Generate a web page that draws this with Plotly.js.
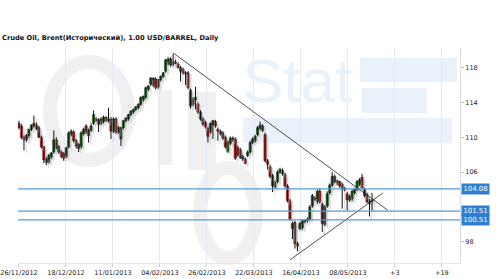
<!DOCTYPE html>
<html><head><meta charset="utf-8">
<script src="https://cdn.plot.ly/plotly-3.0.1.min.js"></script>
<style>html,body{margin:0;padding:0;background:#fff;}#chart{width:500px;height:279px;}</style>
</head><body><div id="chart"></div>
<script>
// ---- data (daily candles, oldest first) ----
const openP  = [111.6,111.3,110.0,109.7,110.2,110.9,111.6,111.4,111.1,110.0,108.9,107.5,107.2,107.7,108.3,109.7,108.9,108.3,108.1,107.8,
108.9,110.3,110.6,109.6,109.2,108.9,110.4,111.3,110.8,110.8,111.6,112.1,112.0,111.6,111.8,112.3,111.9,112.1,110.7,112.1,
111.1,109.8,111.1,111.9,112.1,112.6,112.9,113.2,113.4,113.8,114.3,114.6,115.5,116.1,116.0,116.7,115.8,116.6,117.0,117.6,
118.5,119.0,118.4,118.6,118.4,118.0,117.8,117.3,117.4,115.4,114.3,114.3,113.8,112.9,112.1,111.7,111.0,110.6,111.4,111.8,
110.9,110.7,110.5,110.0,108.4,109.3,109.9,109.8,108.8,108.6,107.8,107.5,107.9,108.3,109.4,109.6,110.3,111.0,111.3,110.3,
107.3,106.6,105.6,104.3,104.9,106.0,106.2,105.7,104.4,102.7,99.5,100.2,97.8,99.5,99.6,100.3,100.4,100.6,102.1,102.9,
102.6,103.8,102.3,100.0,102.1,103.6,104.5,105.5,104.8,104.9,104.6,104.0,103.5,102.8,102.9,103.6,104.0,104.6,105.4,104.0,
103.4,102.4,102.6];
const highP  = [111.9,111.5,110.2,110.4,111.0,111.5,112.5,111.7,111.3,110.2,109.0,107.7,108.1,108.3,110.8,110.0,109.1,108.5,108.3,108.9,
110.7,110.9,110.8,109.8,109.3,110.7,111.1,111.5,111.0,111.6,113.1,112.3,112.2,112.3,112.5,112.4,113.4,112.3,112.3,112.3,
111.3,111.2,112.0,112.3,112.7,113.1,113.3,113.6,113.9,114.7,114.8,115.8,116.0,116.9,116.9,116.9,116.7,117.1,117.5,119.0,
119.2,119.2,119.6,118.9,118.6,118.2,118.0,117.6,117.6,115.6,114.6,115.8,114.0,113.1,112.3,111.9,111.2,111.7,112.0,112.0,
111.1,110.9,110.7,110.2,109.6,110.1,110.1,110.0,109.0,108.8,108.0,107.7,108.5,109.6,110.0,110.3,111.3,111.8,111.5,110.5,
107.5,106.8,105.8,105.0,106.2,106.5,106.4,105.9,104.6,102.9,100.3,100.4,98.0,100.3,100.6,100.6,100.8,102.2,103.5,103.2,
104.0,104.1,102.5,102.2,103.8,104.7,106.0,105.7,105.1,105.0,104.8,104.3,103.7,103.4,104.0,104.2,105.1,105.3,105.8,104.2,
103.6,102.9,103.6];
const lowP   = [110.9,109.8,108.5,109.5,109.9,110.7,111.1,110.8,109.9,108.7,107.0,106.8,107.0,107.5,108.1,108.6,108.1,107.6,107.3,107.6,
108.7,110.1,109.4,108.7,108.3,108.7,110.2,110.4,109.4,110.6,111.4,111.8,110.6,111.4,111.6,111.8,111.7,109.8,110.5,110.4,
110.4,109.0,110.9,111.7,111.9,112.4,112.7,113.0,113.2,113.6,114.1,114.4,115.3,115.9,115.8,115.5,115.6,116.4,116.8,117.4,
118.3,118.1,118.2,118.4,117.9,116.4,117.2,116.0,115.5,113.3,113.6,113.2,112.7,111.9,111.3,111.0,109.4,110.4,109.8,111.1,
109.6,110.2,109.7,108.7,108.2,109.1,109.5,107.4,107.8,107.5,107.3,106.9,107.7,108.1,109.2,109.4,110.1,110.8,110.6,107.1,
106.3,105.3,103.7,104.1,104.7,105.8,105.6,104.2,102.5,100.4,98.3,97.2,96.9,99.3,99.4,100.1,100.2,100.4,101.9,102.7,
102.3,102.4,99.1,99.8,101.9,103.4,104.3,104.7,104.5,104.2,101.8,103.8,101.6,102.6,102.7,103.4,103.8,104.4,104.0,103.1,
102.4,100.9,101.6];
const closeP = [111.1,110.0,109.7,110.2,110.9,111.4,111.3,111.0,110.0,108.9,107.4,107.1,107.9,108.2,109.7,108.8,108.3,107.8,107.6,108.8,
110.5,110.7,109.6,109.0,108.7,110.5,110.9,110.6,110.2,111.3,112.6,111.9,111.5,112.1,112.3,111.9,112.1,110.7,112.1,110.6,
110.6,111.1,111.9,112.2,112.6,113.0,113.2,113.5,113.8,114.6,114.7,115.7,115.9,116.8,116.8,115.7,116.6,117.0,117.4,118.9,
119.0,118.3,118.7,118.5,118.0,117.6,117.4,117.4,115.7,113.6,113.8,114.6,112.9,112.1,111.5,111.2,110.1,111.6,111.9,111.3,
110.7,110.4,109.9,108.9,109.4,109.9,109.7,107.6,108.0,107.7,107.5,107.0,108.3,109.4,109.8,110.1,111.1,111.4,110.8,107.3,
106.9,105.5,104.4,104.8,106.0,106.3,105.8,104.4,102.7,100.6,100.1,97.8,97.5,100.1,100.4,100.4,100.6,102.0,103.3,103.0,
103.8,102.6,100.1,102.0,103.5,104.5,105.5,104.9,105.0,104.4,104.1,104.1,102.8,103.2,103.8,104.0,104.9,105.1,104.2,103.3,
102.6,102.6,102.8];

const xTickLabels = ["26/11/2012","18/12/2012","11/01/2013","04/02/2013","26/02/2013","22/03/2013","16/04/2013","08/05/2013","+3","+19"];
const yTickValues = [98,106,110,114,118];
const levelValues = [104.08, 101.51, 100.51];
const levelLabels = ["104.08","101.51","100.51"];
const trendDownIdx = [62, 148.4];
const trendDownPrice = [119.7, 101.6];
const trendUpIdx = [109, 146.4];
const trendUpPrice = [95.9, 103.6];

// ---- helpers / styling ----
const barIdx = closeP.map((_, i) => i);
const gridStep = 18.9;
const PL = 18, PR = 460, PT = 48, PB = 263;
const fx = x => (x - PL) / (PR - PL);
const fy = y => (PB - y) / (PB - PT);
const UP = '#1f8a1f', DOWN = '#ff1a1a', SHADOW = '#d9d9d9';
const sdx = 0.9, sdy = -0.3;   // drop-shadow offset

function wickXY(dx, dy) {
  const xs = [], ys = [];
  barIdx.forEach(i => { xs.push(i + dx, i + dx, null); ys.push(lowP[i] + dy, highP[i] + dy, null); });
  return {xs, ys};
}
function bodyParts(dy) {
  const base = [], h = [], col = [];
  barIdx.forEach(i => {
    const lo = Math.min(openP[i], closeP[i]), hi = Math.max(openP[i], closeP[i]);
    const hh = Math.max(hi - lo, 0.12);
    base.push(lo + dy); h.push(hh); col.push(closeP[i] >= openP[i] ? UP : DOWN);
  });
  return {base, h, col};
}
const sw = wickXY(sdx, sdy), sb = bodyParts(sdy);
const w = wickXY(0, 0), b = bodyParts(0);

const traces = [
  {type: 'scatter', mode: 'lines', x: sw.xs, y: sw.ys, line: {color: SHADOW, width: 1}, connectgaps: false, hoverinfo: 'skip'},
  {type: 'bar', x: barIdx.map(i => i + sdx), base: sb.base, y: sb.h, width: 0.95, marker: {color: SHADOW, line: {width: 0}}, hoverinfo: 'skip'},
  {type: 'scatter', mode: 'lines', x: w.xs, y: w.ys, line: {color: '#111', width: 1}, connectgaps: false, hoverinfo: 'skip'},
  {type: 'bar', x: barIdx, base: b.base, y: b.h, width: 0.95, marker: {color: b.col, line: {color: '#1a1a1a', width: 0.5}}},
  {type: 'scatter', mode: 'lines', x: trendDownIdx, y: trendDownPrice, line: {color: '#222', width: 0.8}, hoverinfo: 'skip'},
  {type: 'scatter', mode: 'lines', x: trendUpIdx, y: trendUpPrice, line: {color: '#222', width: 0.8}, hoverinfo: 'skip'}
];

const grey = '#f0f0f0', lblue = '#e9f1fa';
const shapes = [
  {type: 'circle', xref: 'paper', yref: 'paper', x0: fx(50), x1: fx(128), y0: fy(160), y1: fy(62), line: {color: grey, width: 14}, layer: 'below'},
  {type: 'rect', xref: 'paper', yref: 'paper', x0: fx(158), x1: fx(172), y0: fy(165), y1: fy(90), fillcolor: grey, line: {width: 0}, layer: 'below'},
  {type: 'rect', xref: 'paper', yref: 'paper', x0: fx(188), x1: fx(216), y0: fy(170), y1: fy(92), fillcolor: grey, line: {width: 0}, layer: 'below'},
  {type: 'circle', xref: 'paper', yref: 'paper', x0: fx(200), x1: fx(256), y0: fy(258), y1: fy(168), line: {color: grey, width: 14}, layer: 'below'},
  {type: 'rect', xref: 'paper', yref: 'paper', x0: fx(360), x1: fx(457), y0: fy(82), y1: fy(58), fillcolor: lblue, line: {width: 0}, layer: 'below'},
  {type: 'rect', xref: 'paper', yref: 'paper', x0: fx(362), x1: fx(427), y0: fy(113), y1: fy(88), fillcolor: lblue, line: {width: 0}, layer: 'below'},
  {type: 'rect', xref: 'paper', yref: 'paper', x0: fx(243), x1: fx(452), y0: fy(143), y1: fy(118), fillcolor: lblue, line: {width: 0}, layer: 'below'}
];
levelValues.forEach(v => shapes.push({type: 'line', xref: 'paper', yref: 'y', x0: 0, x1: 1, y0: v, y1: v, line: {color: '#5b98d6', width: 1.3}}));

const annotations = [
  {xref: 'paper', yref: 'paper', x: fx(240), y: fy(80), xanchor: 'left', yanchor: 'middle', text: 'Stat', showarrow: false,
   font: {family: 'Liberation Sans', size: 62, color: lblue}}
];
levelValues.forEach((v, k) => annotations.push({
  xref: 'paper', yref: 'y', x: 1, y: v, xanchor: 'left', yanchor: 'middle', xshift: 1, text: levelLabels[k], showarrow: false,
  bgcolor: '#2f7fd1', width: 27, height: 10, borderpad: 0, font: {family: 'DejaVu Sans', size: 7, color: '#ffffff'}
}));

const layout = {
  width: 500, height: 279,
  margin: {l: PL, r: 500 - PR, t: PT, b: 279 - PB, pad: 0},
  paper_bgcolor: '#ffffff', plot_bgcolor: '#ffffff',
  title: {text: 'Crude Oil, Brent(Исторический), 1.00 USD/BARREL, Daily', xref: 'container', yref: 'container',
          x: 2/500, xanchor: 'left', y: 1 - 38/279, yanchor: 'middle',
          font: {family: 'DejaVu Sans', size: 6.7, color: '#111', weight: 'bold'}},
  xaxis: {range: [-0.4, 177.4], tickmode: 'array', tickvals: xTickLabels.map((_, k) => k * gridStep), ticktext: xTickLabels,
          showgrid: true, gridcolor: '#e2ebf5', gridwidth: 1, zeroline: false, showline: true, linecolor: '#e6e6e6',
          ticks: 'outside', ticklen: 3, tickcolor: '#cccccc',
          tickfont: {family: 'DejaVu Sans', size: 6.5, color: '#222'}, fixedrange: true},
  yaxis: {range: [95.55, 120.26], side: 'right', tickmode: 'array', tickvals: yTickValues, showgrid: false, zeroline: false,
          showline: true, linecolor: '#dddddd', ticks: 'outside', ticklen: 3, tickcolor: '#bbbbbb',
          tickfont: {family: 'DejaVu Sans', size: 6.5, color: '#222'}, fixedrange: true},
  barmode: 'overlay',
  shapes: shapes, annotations: annotations, showlegend: false
};
Plotly.newPlot('chart', traces, layout, {displayModeBar: false, staticPlot: true});
</script></body></html>
